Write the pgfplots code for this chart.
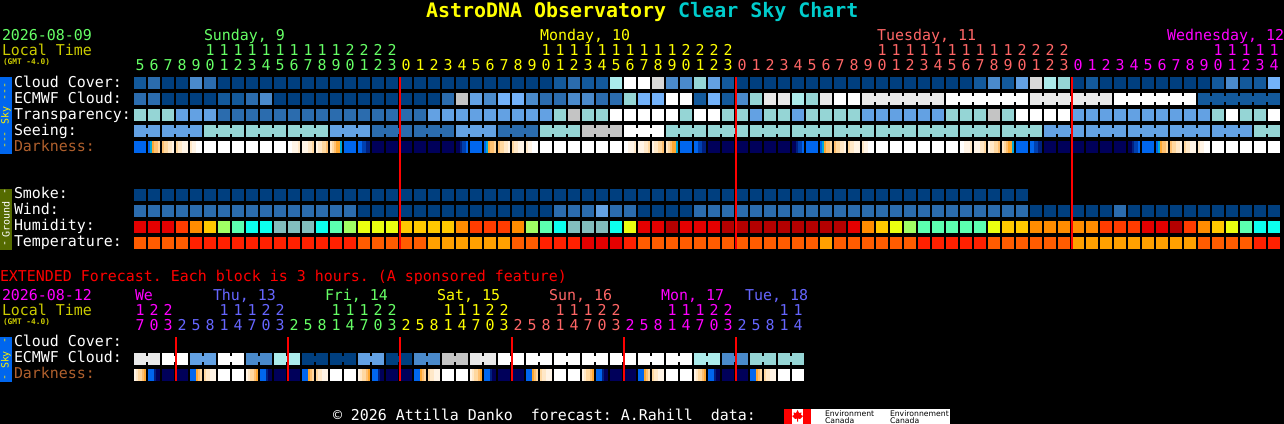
\documentclass[border=0pt]{standalone}
\usepackage{fontspec}
\usepackage{pgfplots}
\usepackage{pgfplotstable}
\pgfplotsset{compat=1.18}
\setmainfont{DejaVu Sans Mono}
\newfontfamily\sansf{DejaVu Sans}
\newcommand\fL{\frenchspacing\fontsize{14.95bp}{16bp}\selectfont}
\newcommand\fT{\frenchspacing\fontsize{19.95bp}{22bp}\selectfont\bfseries}
\newcommand\fG{\fontsize{7.8bp}{9bp}\selectfont\bfseries}
\newcommand\fS{\fontsize{9.96bp}{11bp}\selectfont}
\newcommand\fE{\sansf\fontsize{7.7bp}{8bp}\selectfont}
\definecolor{cGreen}{HTML}{66FF66}
\definecolor{cYel}{HTML}{FFFF00}
\definecolor{cPink}{HTML}{FF6666}
\definecolor{cMag}{HTML}{FF00FF}
\definecolor{cBlue}{HTML}{6666FF}
\definecolor{cLocal}{HTML}{CCCC00}
\definecolor{cTeal}{HTML}{00CCCC}
\definecolor{cDark}{HTML}{B0602D}
\definecolor{cSky}{HTML}{0066EE}
\definecolor{cGround}{HTML}{556B00}
\pgfdeclareplotmark{cell}{\pgfpathrectangle{\pgfpoint{-6bp}{-6bp}}{\pgfpoint{12bp}{12bp}}\pgfusepathqfill}
\pgfdeclareplotmark{slice}{\pgfpathrectangle{\pgfpoint{-1bp}{-6bp}}{\pgfpoint{2bp}{12bp}}\pgfusepathqfill}
\pgfdeclareplotmark{conn}{\pgfpathrectangle{\pgfpoint{-1bp}{-3bp}}{\pgfpoint{2bp}{6bp}}\pgfusepathqfill}
\pgfplotstableread{
i cc ec tr se sm wi hu te en sn
0 1 2 6 4 0 2 11 21 -1 4
1 2 2 6 4 0 2 11 21 -1 -1
2 0 0 6 4 0 2 11 21 -1 4
3 0 0 4 4 0 2 13 21 -1 4
4 3 0 4 4 0 2 14 22 -1 -1
5 2 0 4 6 0 2 15 22 -1 6
6 0 1 2 6 0 2 17 22 -1 6
7 0 1 2 6 0 2 18 22 -1 -1
8 0 2 2 6 0 2 19 22 -1 6
9 0 3 2 6 0 2 19 22 -1 6
10 0 0 2 6 0 2 20 22 -1 -1
11 0 0 2 6 0 2 20 22 -1 6
12 0 0 2 6 0 2 20 22 -1 6
13 0 0 2 6 0 2 19 22 -1 -1
14 0 0 2 4 0 2 18 22 -1 4
15 0 0 2 4 0 2 17 22 -1 4
16 0 0 2 4 0 0 16 21 -1 -1
17 0 0 2 2 0 0 16 21 -1 2
18 0 0 2 2 0 0 16 21 -1 2
19 0 0 2 2 0 0 15 21 -1 -1
20 0 0 2 2 0 0 15 21 -1 2
21 0 0 4 2 0 0 15 23 -1 2
22 0 2 4 2 0 0 15 23 -1 -1
23 0 8 4 4 0 0 14 23 -1 4
24 0 4 4 4 0 0 13 23 -1 4
25 0 3 4 4 0 0 13 23 -1 -1
26 0 5 4 2 0 0 13 23 -1 2
27 0 5 4 2 0 0 14 21 -1 2
28 0 3 4 2 0 0 17 21 -1 -1
29 0 2 4 6 0 0 18 22 -1 6
30 1 2 6 6 0 2 19 22 -1 6
31 2 3 8 6 0 2 20 22 -1 -1
32 1 3 6 8 0 2 20 11 -1 8
33 1 2 6 8 0 4 20 11 -1 8
34 7 2 10 8 0 2 19 11 -1 -1
35 10 6 10 10 0 2 16 22 -1 10
36 10 5 10 10 0 0 11 21 -1 10
37 34 5 10 10 0 0 11 21 -1 -1
38 3 10 10 6 0 0 12 21 -1 6
39 3 10 6 6 0 0 11 21 -1 6
40 6 1 10 6 0 2 11 21 -1 -1
41 4 5 10 6 0 2 11 21 -1 6
42 1 1 6 6 0 2 12 21 -1 6
43 0 3 6 6 0 2 12 21 -1 -1
44 0 6 4 6 0 2 12 21 -1 6
45 0 9 6 6 0 2 12 21 -1 6
46 0 9 6 6 0 2 12 21 -1 -1
47 0 7 4 6 0 2 12 21 -1 6
48 0 6 6 6 0 2 12 21 -1 6
49 0 9 6 6 0 2 12 23 -1 -1
50 0 10 6 6 0 2 12 21 -1 6
51 0 10 6 6 0 2 11 21 -1 6
52 0 9 4 6 0 2 14 21 9 -1
53 0 9 4 6 0 2 15 21 9 6
54 0 9 4 6 0 2 16 21 9 6
55 0 9 4 6 0 2 17 21 9 -1
56 0 9 4 6 0 2 18 22 9 6
57 0 9 4 6 0 2 18 22 -1 6
58 0 10 6 6 0 2 18 22 10 -1
59 0 10 6 6 0 2 18 22 10 6
60 1 10 6 6 0 2 18 22 10 6
61 3 10 8 6 0 2 16 21 10 -1
62 1 10 6 6 0 2 15 21 10 6
63 4 10 10 6 0 2 15 21 -1 6
64 34 9 10 6 -1 0 14 21 9 -1
65 7 9 10 4 -1 0 14 21 9 4
66 6 9 10 4 -1 0 14 21 9 4
67 0 9 4 4 -1 0 14 23 9 -1
68 1 9 4 4 -1 0 14 23 9 4
69 0 9 4 4 -1 0 13 23 -1 4
70 0 10 4 4 -1 2 13 23 10 -1
71 0 10 4 4 -1 0 13 23 10 4
72 0 10 4 4 -1 0 11 23 10 4
73 0 10 4 4 -1 0 11 23 10 -1
74 0 10 4 4 -1 0 12 23 10 4
75 0 10 4 4 -1 0 13 23 -1 4
76 0 1 4 4 -1 0 14 21 1 -1
77 1 1 6 4 -1 0 15 21 1 4
78 3 1 10 4 -1 0 16 21 1 4
79 1 1 6 4 -1 0 18 21 1 -1
80 1 1 6 6 -1 0 19 22 1 6
81 5 1 10 6 -1 0 19 22 -1 -1
}\main
\pgfplotstableread{
i a b c d e f
0 24 24 24 24 24 24
1 24 25 26 27 27 28
2 27 28 28 29 29 30
3 28 29 29 30 30 30
4 29 30 30 10 10 10
5 10 10 10 10 10 10
6 10 10 10 10 10 10
7 10 10 10 10 10 10
8 10 10 10 10 10 10
9 10 10 10 10 10 10
10 10 10 10 10 10 10
11 10 10 30 30 30 29
12 30 30 30 29 29 28
13 30 29 29 28 28 27
14 29 28 27 26 26 25
15 24 24 24 24 24 24
16 24 24 32 32 33 33
17 31 31 31 31 31 31
18 31 31 31 31 31 31
19 31 31 31 31 31 31
20 31 31 31 31 31 31
21 31 31 31 31 31 31
22 31 31 31 31 31 31
23 31 31 33 32 32 24
24 24 24 24 24 24 24
25 24 25 26 27 27 28
26 27 28 28 29 29 30
27 28 29 29 30 30 30
28 29 30 30 10 10 10
29 10 10 10 10 10 10
30 10 10 10 10 10 10
31 10 10 10 10 10 10
32 10 10 10 10 10 10
33 10 10 10 10 10 10
34 10 10 10 10 10 10
35 10 10 30 30 30 29
36 30 30 30 29 29 28
37 30 29 29 28 28 27
38 29 28 27 26 26 25
39 24 24 24 24 24 24
40 24 24 32 32 33 33
41 31 31 31 31 31 31
42 31 31 31 31 31 31
43 31 31 31 31 31 31
44 31 31 31 31 31 31
45 31 31 31 31 31 31
46 31 31 31 31 31 31
47 31 31 33 32 32 24
48 24 24 24 24 24 24
49 24 25 26 27 27 28
50 27 28 28 29 29 30
51 28 29 29 30 30 30
52 29 30 30 10 10 10
53 10 10 10 10 10 10
54 10 10 10 10 10 10
55 10 10 10 10 10 10
56 10 10 10 10 10 10
57 10 10 10 10 10 10
58 10 10 10 10 10 10
59 10 10 30 30 30 29
60 30 30 30 29 29 28
61 30 29 29 28 28 27
62 29 28 27 26 26 25
63 24 24 24 24 24 24
64 24 24 32 32 33 33
65 31 31 31 31 31 31
66 31 31 31 31 31 31
67 31 31 31 31 31 31
68 31 31 31 31 31 31
69 31 31 31 31 31 31
70 31 31 31 31 31 31
71 31 31 33 32 32 24
72 24 24 24 24 24 24
73 24 25 26 27 27 28
74 27 28 28 29 29 30
75 28 29 29 30 30 30
76 29 30 30 10 10 10
77 10 10 10 10 10 10
78 10 10 10 10 10 10
79 10 10 10 10 10 10
80 10 10 10 10 10 10
81 10 10 10 10 10 10
}\dark
\pgfplotstableread{
i ec en a b c d e f
0 9 9 30 29 28 28 27 26
1 9 -1 24 24 24 33 31 31
2 10 10 31 31 31 31 31 31
3 10 -1 31 31 31 31 31 31
4 4 4 24 24 24 26 27 28
5 4 -1 28 29 29 30 30 30
6 10 10 10 10 10 10 10 10
7 10 -1 10 10 10 10 10 10
8 3 3 30 29 28 28 27 26
9 3 -1 24 24 24 33 31 31
10 7 7 31 31 31 31 31 31
11 7 -1 31 31 31 31 31 31
12 0 0 24 24 24 26 27 28
13 0 -1 28 29 29 30 30 30
14 0 0 10 10 10 10 10 10
15 0 -1 10 10 10 10 10 10
16 4 4 30 29 28 28 27 26
17 4 -1 24 24 24 33 31 31
18 0 0 31 31 31 31 31 31
19 0 -1 31 31 31 31 31 31
20 3 3 24 24 24 26 27 28
21 3 -1 28 29 29 30 30 30
22 8 8 10 10 10 10 10 10
23 8 -1 10 10 10 10 10 10
24 9 9 30 29 28 28 27 26
25 9 -1 24 24 24 33 31 31
26 10 10 31 31 31 31 31 31
27 10 -1 31 31 31 31 31 31
28 10 10 24 24 24 26 27 28
29 10 -1 28 29 29 30 30 30
30 10 10 10 10 10 10 10 10
31 10 -1 10 10 10 10 10 10
32 10 10 30 29 28 28 27 26
33 10 -1 24 24 24 33 31 31
34 10 10 31 31 31 31 31 31
35 10 -1 31 31 31 31 31 31
36 10 10 24 24 24 26 27 28
37 10 -1 28 29 29 30 30 30
38 10 10 10 10 10 10 10 10
39 10 -1 10 10 10 10 10 10
40 7 7 30 29 28 28 27 26
41 7 -1 24 24 24 33 31 31
42 3 3 31 31 31 31 31 31
43 3 -1 31 31 31 31 31 31
44 6 6 24 24 24 26 27 28
45 6 -1 28 29 29 30 30 30
46 6 6 10 10 10 10 10 10
47 6 -1 10 10 10 10 10 10
}\ext
\pgfplotsset{
  colormap={csc}{
    rgb255(0)=(0,63,127) rgb255(1)=(19,89,155) rgb255(2)=(43,108,174) rgb255(3)=(74,138,203)
    rgb255(4)=(99,161,227) rgb255(5)=(115,178,250) rgb255(6)=(149,213,213) rgb255(7)=(171,235,235)
    rgb255(8)=(196,196,196) rgb255(9)=(233,233,233) rgb255(10)=(255,255,255) rgb255(11)=(228,0,0)
    rgb255(12)=(180,0,0) rgb255(13)=(255,60,0) rgb255(14)=(255,140,0) rgb255(15)=(255,200,0)
    rgb255(16)=(234,255,16) rgb255(17)=(160,255,100) rgb255(18)=(92,255,176) rgb255(19)=(12,255,238)
    rgb255(20)=(130,190,190) rgb255(21)=(255,92,0) rgb255(22)=(255,32,0) rgb255(23)=(255,160,0)
    rgb255(24)=(0,102,238) rgb255(25)=(0,168,216) rgb255(26)=(255,168,48) rgb255(27)=(255,192,112)
    rgb255(28)=(255,216,160) rgb255(29)=(255,232,200) rgb255(30)=(255,244,230) rgb255(31)=(0,0,90)
    rgb255(32)=(0,64,176) rgb255(33)=(0,32,128) rgb255(34)=(216,216,216) rgb255(40)=(0,0,0)
  },
  cells/.style={scatter, only marks, mark=cell, forget plot},
  slices/.style={scatter, only marks, mark=slice, forget plot},
  conns/.style={scatter, only marks, mark=conn, forget plot},
  pixelaxis/.style={scale only axis, width=1284bp, height=424bp,
    xmin=0, xmax=1284, ymin=0, ymax=424, y dir=reverse, hide axis, clip=false,
    point meta min=0, point meta max=40},
}
\begin{document}
\begin{tikzpicture}
\useasboundingbox (0,0) rectangle (1284bp,424bp);
\fill[black] (0,0) rectangle (1284bp,424bp);
\begin{axis}[pixelaxis]
% main grid
\addplot[cells] table[x expr=\thisrow{i}*14+140, y expr=83, point meta=\thisrow{cc}] {\main};
\addplot[cells] table[x expr=\thisrow{i}*14+140, y expr=99, point meta=\thisrow{ec}] {\main};
\addplot[cells] table[x expr=\thisrow{i}*14+140, y expr=115, point meta=\thisrow{tr}] {\main};
\addplot[cells] table[x expr=\thisrow{i}*14+140, y expr=131, point meta=\thisrow{se}] {\main};
\addplot[cells] table[x expr=\thisrow{i}*14+140, y expr=\thisrow{sm}<0 ? nan : 195, point meta=\thisrow{sm}] {\main};
\addplot[cells] table[x expr=\thisrow{i}*14+140, y expr=211, point meta=\thisrow{wi}] {\main};
\addplot[cells] table[x expr=\thisrow{i}*14+140, y expr=227, point meta=\thisrow{hu}] {\main};
\addplot[cells] table[x expr=\thisrow{i}*14+140, y expr=243, point meta=\thisrow{te}] {\main};
\addplot[conns] table[x expr=\thisrow{i}*14+147, y expr=\thisrow{en}<0 ? nan : 99, point meta=\thisrow{en}] {\main};
\addplot[conns] table[x expr=\thisrow{i}*14+147, y expr=\thisrow{sn}<0 ? nan : 131, point meta=\thisrow{sn}] {\main};
\addplot[slices] table[x expr=\thisrow{i}*14+135, y expr=147, point meta=\thisrow{a}] {\dark};
\addplot[slices] table[x expr=\thisrow{i}*14+137, y expr=147, point meta=\thisrow{b}] {\dark};
\addplot[slices] table[x expr=\thisrow{i}*14+139, y expr=147, point meta=\thisrow{c}] {\dark};
\addplot[slices] table[x expr=\thisrow{i}*14+141, y expr=147, point meta=\thisrow{d}] {\dark};
\addplot[slices] table[x expr=\thisrow{i}*14+143, y expr=147, point meta=\thisrow{e}] {\dark};
\addplot[slices] table[x expr=\thisrow{i}*14+145, y expr=147, point meta=\thisrow{f}] {\dark};
% extended grid
\addplot[cells] table[x expr=\thisrow{i}*14+140, y expr=359, point meta=\thisrow{ec}] {\ext};
\addplot[conns] table[x expr=\thisrow{i}*14+147, y expr=\thisrow{en}<0 ? nan : 359, point meta=\thisrow{en}] {\ext};
\addplot[slices] table[x expr=\thisrow{i}*14+135, y expr=375, point meta=\thisrow{a}] {\ext};
\addplot[slices] table[x expr=\thisrow{i}*14+137, y expr=375, point meta=\thisrow{b}] {\ext};
\addplot[slices] table[x expr=\thisrow{i}*14+139, y expr=375, point meta=\thisrow{c}] {\ext};
\addplot[slices] table[x expr=\thisrow{i}*14+141, y expr=375, point meta=\thisrow{d}] {\ext};
\addplot[slices] table[x expr=\thisrow{i}*14+143, y expr=375, point meta=\thisrow{e}] {\ext};
\addplot[slices] table[x expr=\thisrow{i}*14+145, y expr=375, point meta=\thisrow{f}] {\ext};
\end{axis}
\begin{axis}[pixelaxis]
% day boundaries, in an axis of their own so that they lie over the blocks
\addplot[red, line width=2bp, forget plot] coordinates {(400,77)(400,249)};
\addplot[red, line width=2bp, forget plot] coordinates {(736,77)(736,249)};
\addplot[red, line width=2bp, forget plot] coordinates {(1072,77)(1072,249)};
\addplot[red, line width=2bp, forget plot] coordinates {(176,337)(176,381)};
\addplot[red, line width=2bp, forget plot] coordinates {(288,337)(288,381)};
\addplot[red, line width=2bp, forget plot] coordinates {(400,337)(400,381)};
\addplot[red, line width=2bp, forget plot] coordinates {(512,337)(512,381)};
\addplot[red, line width=2bp, forget plot] coordinates {(624,337)(624,381)};
\addplot[red, line width=2bp, forget plot] coordinates {(736,337)(736,381)};
\end{axis}
\begin{scope}[x=1bp,y=-1bp,shift={(0,-424)},
  every node/.style={inner sep=0pt,outer sep=0pt,anchor=base west,font=\fL}]
\node[font=\fT,text=cYel] at (426,18) {AstroDNA Observatory \textcolor{cTeal}{Clear Sky Chart}};
\node[text=cGreen] at (2,40) {2026-08-09};
\node[text=cLocal] at (2,55) {Local Time};
\node[text=cLocal,font=\fG] at (3,64) {(GMT -4.0)};
\node[text=cGreen] at (204,40) {Sunday, 9};
\node[text=cYel] at (540,40) {Monday, 10};
\node[text=cPink] at (877,40) {Tuesday, 11};
\node[text=cMag] at (1167,40) {Wednesday, 12};
\foreach \i in {0,...,81}{
  \pgfmathtruncatemacro\h{mod(\i+5,24)}
  \pgfmathtruncatemacro\t{\h/10}
  \pgfmathtruncatemacro\u{mod(\h,10)}
  \pgfmathtruncatemacro\x{140+14*\i}
  \ifnum\i<19 \def\c{cGreen}\else\ifnum\i<43 \def\c{cYel}\else\ifnum\i<67 \def\c{cPink}\else\def\c{cMag}\fi\fi\fi
  \node[anchor=base,text=\c] at (\x,70) {\u};
  \ifnum\h>9 \node[anchor=base,text=\c] at (\x,55) {\t};\fi
}
\foreach \y/\s in {87/Cloud Cover:,103/ECMWF Cloud:,119/Transparency:,135/Seeing:,198/Smoke:,214/Wind:,230/Humidity:,246/Temperature:,346/Cloud Cover:,362/ECMWF Cloud:}
  \node[text=white] at (14,\y) {\s};
\node[text=cDark] at (14,151) {Darkness:};
\node[text=cDark] at (14,378) {Darkness:};
\fill[cSky] (0,77) rectangle (12,154);
\fill[cGround] (0,189) rectangle (12,250);
\fill[cSky] (0,337) rectangle (12,382);
\begin{scope}[every node/.style={inner sep=0pt,anchor=center,rotate=90,font=\fS}]
\node[text=yellow] at (6,91.5) {-{}-{}-};
\node[text=yellow] at (6,115.5) {Sky};
\node[text=yellow] at (6,140) {-{}-{}-};
\node[text=white] at (6,191.5) {-};
\node[text=white] at (6,219.5) {Ground};
\node[text=white] at (6,244) {-};
\node[text=yellow] at (6,340.5) {-};
\node[text=yellow] at (6,360) {Sky};
\node[text=yellow] at (6,377.5) {-};
\end{scope}
\node[text=red] at (0,281) {EXTENDED Forecast. Each block is 3 hours. (A sponsored feature)};
\node[text=cMag] at (2,300) {2026-08-12};
\node[text=cLocal] at (2,315) {Local Time};
\node[text=cLocal,font=\fG] at (3,324) {(GMT -4.0)};
\node[text=cMag] at (135,300) {We};
\node[text=cBlue] at (213,300) {Thu, 13};
\node[text=cGreen] at (325,300) {Fri, 14};
\node[text=cYel] at (437,300) {Sat, 15};
\node[text=cPink] at (549,300) {Sun, 16};
\node[text=cMag] at (661,300) {Mon, 17};
\node[text=cBlue] at (745,300) {Tue, 18};
\foreach \i in {0,...,47}{
  \pgfmathtruncatemacro\h{mod(17+3*\i,24)}
  \pgfmathtruncatemacro\t{\h/10}
  \pgfmathtruncatemacro\u{mod(\h,10)}
  \pgfmathtruncatemacro\x{140+14*\i}
  \ifnum\i<3 \def\c{cMag}\else\ifnum\i<11 \def\c{cBlue}\else\ifnum\i<19 \def\c{cGreen}\else\ifnum\i<27 \def\c{cYel}\else\ifnum\i<35 \def\c{cPink}\else\ifnum\i<43 \def\c{cMag}\else\def\c{cBlue}\fi\fi\fi\fi\fi\fi
  \node[anchor=base,text=\c] at (\x,330) {\u};
  \ifnum\h>9 \node[anchor=base,text=\c] at (\x,315) {\t};\fi
}
\node[text=white] at (333,420) {© 2026 Attilla Danko~~forecast: A.Rahill~~data:};
% logo
\fill[white] (784,409) rectangle (950,424);
\fill[red] (784,409) rectangle (792,424);
\fill[red] (803,409) rectangle (811,424);
\fill[red] (797.5,410) -- (799,413) -- (801.5,412.5) -- (801,415) -- (803,416) -- (800,419) -- (798,418.5) -- (798,421.5) -- (797,421.5) -- (797,418.5) -- (795,419) -- (792,416) -- (794,415) -- (793.5,412.5) -- (796,413) -- cycle;
\node[text=black,font=\fE] at (825,416) {Environment};
\node[text=black,font=\fE] at (825,423.5) {Canada};
\node[text=black,font=\fE] at (890,416) {Environnement};
\node[text=black,font=\fE] at (890,423.5) {Canada};
\end{scope}
\end{tikzpicture}
\end{document}
